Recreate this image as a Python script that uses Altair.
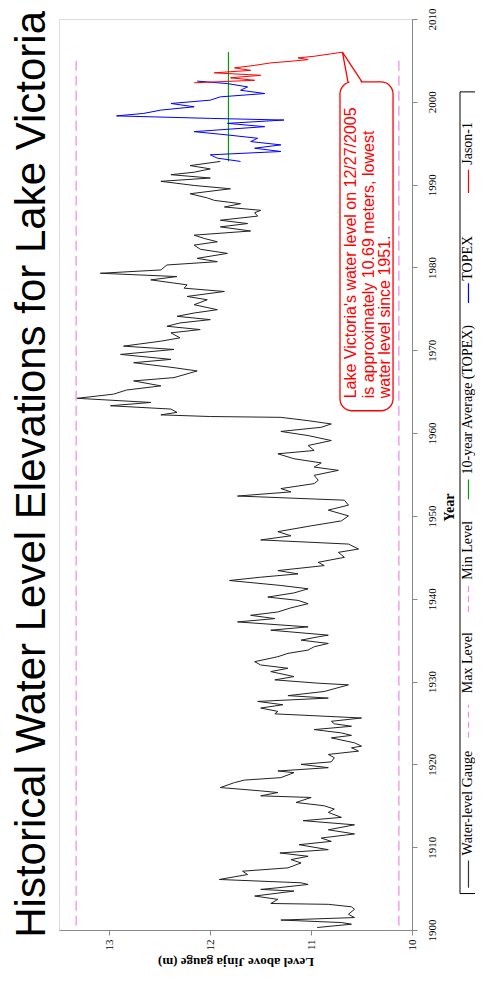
import altair as alt
import pandas as pd

# ---------------- data ----------------
gauge_year = [
    1900.3, 1900.7, 1900.9, 1901.2, 1901.5, 1901.9, 1902.5, 1902.8, 1903.1, 1903.2, 1903.7, 1904.1, 1904.7,
    1904.9, 1905.1, 1905.5, 1905.7, 1906.1, 1906.7, 1907.1, 1907.5, 1908.1, 1908.5, 1908.9, 1909.3, 1909.7,
    1910.3, 1910.7, 1911.1, 1911.6, 1912.1, 1912.7, 1913.2, 1913.6, 1914.2, 1914.6, 1915.0, 1915.4, 1916.0,
    1916.2, 1916.6, 1916.8, 1917.2, 1917.8, 1918.1, 1918.4, 1919.0, 1919.2, 1919.6,
    1920.0, 1920.3, 1920.8, 1921.2, 1921.6, 1922.0, 1922.2, 1922.6, 1923.2, 1923.5, 1923.8, 1924.2, 1924.6,
    1924.9, 1925.2, 1925.6, 1926.1, 1926.4, 1926.8, 1927.2, 1927.6, 1928.0, 1928.3, 1928.8, 1929.6, 1929.8,
    1930.2, 1930.6, 1931.2, 1931.6, 1932.0, 1932.4, 1933.0, 1933.4, 1933.8, 1934.2, 1934.6, 1935.0, 1935.4,
    1935.6, 1936.2, 1936.6, 1937.2, 1937.6, 1938.0, 1938.4, 1938.9, 1939.4, 1939.8,
    1940.2, 1940.7, 1941.2, 1941.6, 1942.2, 1942.6, 1943.0, 1943.4, 1944.0, 1944.4, 1945.0, 1945.6, 1946.0,
    1946.6, 1947.1, 1947.6, 1948.1, 1948.8, 1949.4,
    1950.0, 1950.7, 1951.3, 1951.9, 1952.4, 1952.9, 1953.3, 1953.9, 1954.3, 1954.9, 1955.5, 1955.9, 1956.4,
    1956.9, 1957.5, 1957.9, 1958.5, 1959.1, 1959.7,
    1960.2, 1960.7, 1961.1, 1961.5, 1961.9, 1962.0, 1962.2, 1962.5, 1962.9, 1963.3, 1963.7, 1964.2, 1964.7,
    1965.2, 1965.7, 1966.3, 1966.7, 1967.5, 1967.9, 1968.5, 1968.9, 1969.5,
    1970.1, 1970.5, 1971.1, 1971.5, 1972.1, 1972.5, 1972.9, 1973.3, 1973.7, 1974.1, 1974.5, 1974.9, 1975.5,
    1976.1, 1976.5, 1977.1, 1977.5, 1977.9, 1978.5, 1978.9, 1979.3, 1979.7,
    1980.3, 1980.7, 1981.1, 1981.7, 1982.2, 1982.7, 1983.1, 1983.5, 1983.9, 1984.4, 1984.9, 1985.3, 1985.7,
    1986.2, 1986.6, 1986.9, 1987.3, 1987.7, 1988.1, 1988.4, 1988.9, 1989.5, 1989.9,
    1990.4, 1990.8, 1991.2, 1991.5, 1991.9, 1992.3, 1992.8,
]
gauge_level = [
    10.94, 10.60, 10.70, 11.30, 10.57, 10.63, 10.57, 10.60, 10.83, 11.40, 11.33, 11.56, 11.17,
    11.50, 11.33, 11.03, 11.10, 11.91, 11.63, 11.68, 11.23, 11.10, 11.20, 11.03, 11.31, 10.83,
    11.12, 10.80, 10.90, 10.57, 10.83, 10.57, 11.08, 10.70, 10.83, 10.77, 10.87, 11.15, 11.00,
    11.50, 11.33, 11.50, 11.90, 11.76, 11.66, 11.30, 11.17, 11.33, 10.83,
    11.10, 10.80, 10.77, 10.83, 10.53, 10.60, 10.50, 10.57, 10.80, 10.60, 10.70, 10.97, 10.60,
    10.77, 10.80, 10.50, 11.36, 11.33, 11.50, 11.28, 11.53, 10.83, 11.23, 10.87, 10.63, 10.93,
    11.36, 11.17, 11.40, 11.23, 11.50, 11.56, 11.33, 11.23, 11.03, 10.97, 10.83, 11.10, 10.93,
    10.83, 11.40, 11.03, 11.73, 11.36, 11.60, 11.33, 11.20, 11.03, 11.13,
    11.43, 11.17, 11.03, 11.30, 11.81, 11.50, 11.13, 11.33, 10.87, 10.93, 10.67, 10.73, 10.53,
    10.63, 11.50, 11.20, 11.33, 11.00, 10.70,
    10.63, 10.83, 10.63, 10.67, 11.73, 11.20, 11.30, 10.97, 10.93, 10.97, 10.73, 10.97, 10.90,
    11.17, 11.33, 10.97, 11.03, 10.80, 11.03,
    11.30, 10.90, 10.80, 11.03, 11.30, 12.00, 12.49, 12.33, 12.39, 12.99, 12.59, 13.32, 12.96,
    12.83, 12.49, 12.76, 12.36, 12.13, 12.36, 12.76, 12.39, 12.89,
    12.36, 12.86, 12.49, 12.30, 12.39, 12.10, 12.43, 12.30, 12.00, 12.33, 12.16, 11.93, 12.16,
    12.03, 12.23, 11.86, 12.26, 12.23, 12.59, 12.33, 13.09, 12.49,
    12.43, 11.93, 12.13, 11.83, 12.10, 12.16, 11.93, 12.06, 12.16, 11.60, 11.90, 11.63, 11.90,
    11.53, 11.56, 11.50, 11.86, 11.70, 11.96, 12.03, 12.20, 11.80, 12.16,
    12.49, 12.00, 12.39, 12.16, 12.00, 12.20, 11.90,
]
topex_year = [1992.8, 1993.2, 1993.6, 1994.0, 1994.4, 1994.8, 1995.2, 1995.6, 1996.0, 1996.4, 1997.0, 1997.4,
              1997.8, 1998.0, 1998.3, 1998.6, 1999.0, 1999.4, 1999.8, 2000.2, 2000.6, 2001.0, 2001.4, 2001.8,
              2002.2, 2002.5]
topex_level = [11.70, 11.93, 12.00, 11.30, 11.56, 11.30, 11.60, 11.53, 11.83, 12.16, 11.46, 11.83,
               11.27, 12.00, 12.93, 12.66, 12.49, 12.16, 12.39, 12.00, 11.90, 11.46, 11.70, 11.63,
               11.83, 12.13]
jason_year = [2002.3, 2002.6, 2002.9, 2003.2, 2003.5, 2003.8, 2004.1, 2004.4, 2004.7, 2004.9, 2005.1,
              2005.3, 2005.5, 2005.8, 2005.99]
jason_level = [12.16, 11.56, 11.80, 11.50, 11.96, 11.60, 11.76, 11.56, 11.40, 11.20, 11.03,
               11.13, 10.97, 10.80, 10.69]

max_level = 13.33
min_level = 10.13
ref_years = [1900.5, 2005.3]
avg_level = 11.82
avg_years = [1992.8, 2006.0]

year_ticks = list(range(1900, 2011, 10))
level_ticks = [10, 11, 12, 13]

note_lines = ["Lake Victoria's water level on 12/27/2005",
              "is approximately 10.69 meters, lowest",
              "water level since 1951."]

legend_labels = ["Water-level Gauge", "Max Level", "Min Level",
                 "10-year Average (TOPEX)", "TOPEX", "Jason-1"]
legend_colors = ["#333333", "#EE88EE", "#EE88EE", "#00A000", "#0000FF", "#FF0000"]
legend_dashed = [False, True, True, False, False, False]

# ---------------- scales / encodings ----------------
xs = alt.Scale(domain=[10, 13.5], reverse=True, nice=False, zero=False)
ys = alt.Scale(domain=[1900, 2010], nice=False, zero=False)
serif = "Liberation Serif"
sans = "Liberation Sans"

x_axis = alt.Axis(values=level_ticks, labelAngle=270, labelFont=serif, labelFontSize=11,
                  labelColor="black", tickSize=5, tickColor="#888", domainColor="#888",
                  labelPadding=4, grid=False, title="Level above Jinja gauge (m)",
                  titleAngle=180, titleFont=serif, titleFontSize=13, titleFontWeight="bold",
                  titleY=31, titleBaseline="middle", titleColor="black")
y_axis = alt.Axis(orient="right", values=year_ticks, format="d", labelAngle=270,
                  labelAlign="center", labelBaseline="top", labelFont=serif, labelFontSize=11,
                  labelColor="black", tickSize=5, tickColor="#888", domainColor="#888",
                  labelPadding=9, grid=False, title="Year", titleAngle=270, titleFont=serif,
                  titleFontSize=14, titleFontWeight="bold", titleX=37, titleY=488,
                  titleAlign="center", titleBaseline="middle", titleColor="black")

X = lambda f="level": alt.X(f"{f}:Q", scale=xs, axis=x_axis)
Y = lambda f="year": alt.Y(f"{f}:Q", scale=ys, axis=y_axis)

series_df = pd.concat([
    pd.DataFrame({"year": gauge_year, "level": gauge_level, "series": "Water-level Gauge"}),
    pd.DataFrame({"year": topex_year, "level": topex_level, "series": "TOPEX"}),
    pd.DataFrame({"year": jason_year, "level": jason_level, "series": "Jason-1"}),
])

ref_df = pd.DataFrame({"level": [max_level, min_level], "year": [ref_years[0]] * 2,
                       "year2": [ref_years[1]] * 2})
avg_df = pd.DataFrame({"level": [avg_level], "year": [avg_years[0]], "year2": [avg_years[1]]})

lines = alt.Chart(series_df).mark_line(strokeWidth=1).encode(
    x=X(), y=Y(),
    color=alt.Color("series:N", scale=alt.Scale(domain=["Water-level Gauge", "TOPEX", "Jason-1"],
                                                range=["#222222", "#0000FF", "#FF0000"]), legend=None),
    order=alt.Order("year:Q"),
)
refs = alt.Chart(ref_df).mark_rule(color="#EE88EE", strokeDash=[10, 5], strokeWidth=1.2).encode(
    x=X(), y=Y(), y2="year2:Q")
avg = alt.Chart(avg_df).mark_rule(color="#00A000", strokeWidth=1.2).encode(
    x=X(), y=Y(), y2="year2:Q")

# ---------------- callout ----------------
box_df = pd.DataFrame({"level": [10.714], "level2": [10.188], "year": [1962.7], "year2": [2002.4]})
box = alt.Chart(box_df).mark_rect(fill="white", stroke="#FF0000", strokeWidth=1.3,
                                  cornerRadius=12).encode(x=X(), x2="level2:Q", y=Y(), y2="year2:Q")
gap_df = pd.DataFrame({"level": [10.62], "level2": [10.51], "year": [2002.4]})
gap = alt.Chart(gap_df).mark_rule(color="white", strokeWidth=3).encode(
    x=X(), x2="level2:Q", y=Y())
ptr_df = pd.DataFrame({"level": [10.635, jason_level[-1], 10.496],
                       "year": [2002.4, jason_year[-1], 2002.4], "o": [0, 1, 2]})
ptr = alt.Chart(ptr_df).mark_line(color="#FF0000", strokeWidth=1.3).encode(
    x=X(), y=Y(), order="o:Q")
note_df = pd.DataFrame({"text": note_lines, "level": [10.605, 10.43, 10.27],
                        "year": [1964.2] * 3})
note = alt.Chart(note_df).mark_text(angle=270, align="left", baseline="middle", font=sans,
                                    fontSize=16, color="#FF0000").encode(
    x=X(), y=Y(), text="text:N")

# ---------------- legend (drawn in data units, right of the plot) ----------------
leg_line_lo = [1905.1, 1923.2, 1938.4, 1952.0, 1975.7, 1989.0]
leg_line_hi = [1908.4, 1927.2, 1941.7, 1954.4, 1978.1, 1991.8]
leg_text_at = [1909.0, 1928.6, 1942.3, 1955.0, 1978.4, 1992.4]
leg_df = pd.DataFrame({"label": legend_labels, "color": legend_colors,
                       "dash": ["dash" if d else "solid" for d in legend_dashed],
                       "year": leg_line_lo, "year2": leg_line_hi, "ty": leg_text_at,
                       "level": [9.44] * 6})
leg_box_df = pd.DataFrame({"level": [9.524], "level2": [9.0], "year": [1904.4], "year2": [2001.2]})
leg_box = alt.Chart(leg_box_df).mark_rect(fill="white", stroke="black", strokeWidth=1).encode(
    x=X(), x2="level2:Q", y=Y(), y2="year2:Q")
leg_sym = alt.Chart(leg_df).mark_rule(strokeWidth=1.2).encode(
    x=X(), y=Y(), y2="year2:Q",
    color=alt.Color("color:N", scale=None),
    strokeDash=alt.StrokeDash("dash:N", scale=alt.Scale(domain=["solid", "dash"],
                                                        range=[[1, 0], [6, 4]]), legend=None),
)
leg_txt = alt.Chart(leg_df).mark_text(angle=270, align="left", baseline="middle", font=serif,
                                      fontSize=14, color="black").encode(
    x=X(), y=Y("ty"), text="label:N")

chart = alt.layer(
    refs, avg, lines, box, gap, ptr, note, leg_box, leg_sym, leg_txt
).properties(
    width=353, height=911,
    title=alt.TitleParams("Historical Water Level Elevations for Lake Victoria", orient="left",
                          anchor="end", frame="group", font=sans, fontSize=42,
                          fontWeight="normal", color="black", offset=5, dx=8),
    autosize=alt.AutoSizeParams(type="none"),
    padding={"left": 51, "top": 11, "right": 63, "bottom": 38},
).configure_view(stroke="#888", strokeWidth=1).configure(background="white")

chart.save("out.html", embed_options={"renderer": "svg", "actions": False})
